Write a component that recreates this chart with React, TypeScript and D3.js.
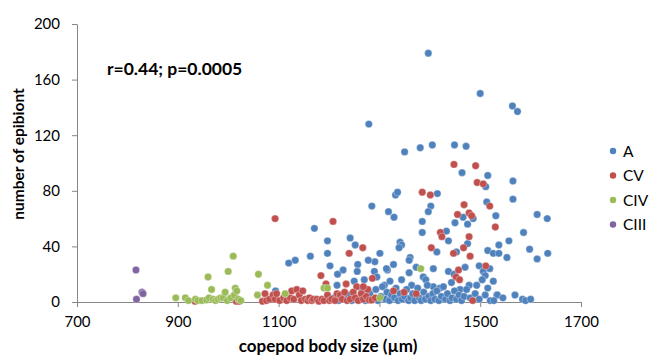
import React, { useEffect, useRef } from 'react';
import * as d3 from 'd3';

// epibiont counts vs copepod body size
const seriesNames = ['A', 'CV', 'CIV', 'CIII'];
const seriesColors = ['#4F81BD', '#C0504D', '#9BBB59', '#8064A2'];

const adults: [number, number][] = [
  [1397, 179], [1500, 150], [1564, 141], [1574, 137], [1279, 128], [1350, 108],
  [1381, 111], [1405, 113], [1449, 113], [1472, 112], [1464, 93], [1515, 91],
  [1511, 83], [1565, 87], [1415, 78], [1332, 77], [1336, 79], [1402, 69],
  [1397, 65], [1318, 65], [1329, 61], [1285, 69], [1513, 72], [1565, 74],
  [1466, 61], [1531, 62], [1450, 57], [1475, 56], [1486, 60], [1385, 58],
  [1385, 50], [1433, 51], [1437, 44], [1475, 42], [1453, 36], [1341, 43],
  [1344, 41], [1339, 39], [1414, 36], [1361, 32], [1359, 30], [1301, 35],
  [1537, 41], [1557, 44], [1515, 37], [1526, 35], [1537, 35], [1553, 32],
  [1613, 63], [1633, 60], [1586, 50], [1598, 38], [1613, 31], [1634, 35],
  [1171, 53], [1197, 44], [1197, 35], [1163, 33], [1133, 30], [1120, 28],
  [1202, 26], [1242, 46], [1252, 41], [1291, 29], [1278, 30], [1257, 27],
  [1256, 22], [1228, 23], [1217, 20], [1316, 23], [1328, 27], [1290, 22],
  [1295, 18], [1270, 16], [1250, 15], [1216, 12], [1310, 12], [1321, 15],
  [1094, 8], [1373, 25], [1407, 24], [1387, 18], [1392, 16], [1359, 21],
  [1437, 22], [1448, 20], [1470, 25], [1498, 26], [1506, 22], [1493, 12],
  [1526, 15], [1478, 12], [1443, 14], [1460, 9], [1533, 5], [1520, 1],
  [1344, 16], [1364, 12], [1407, 11], [1420, 10], [1510, 19], [1504, 16],
  [1519, 24], [1534, 5], [1527, 1], [1569, 5], [1584, 2], [1314, 24],
  [1210, 3], [1219, 1], [1230, 2], [1238, 5], [1245, 1], [1254, 3], [1261, 2],
  [1266, 8], [1272, 1], [1276, 4], [1281, 6], [1288, 2], [1293, 9], [1297, 1],
  [1303, 4], [1306, 11], [1312, 2], [1315, 7], [1320, 1], [1324, 5], [1330, 3],
  [1333, 10], [1337, 1], [1341, 6], [1345, 2], [1350, 4], [1354, 9], [1358, 1],
  [1362, 3], [1366, 6], [1370, 1], [1376, 10], [1379, 3], [1383, 1], [1388, 7],
  [1391, 2], [1395, 12], [1398, 4], [1402, 1], [1406, 6], [1410, 2], [1414, 8],
  [1418, 1], [1423, 4], [1427, 11], [1431, 2], [1435, 6], [1440, 1], [1444, 3],
  [1449, 8], [1453, 2], [1458, 5], [1463, 1], [1468, 4], [1473, 9], [1480, 3],
  [1490, 6], [1498, 2], [1510, 5], [1515, 10], [1545, 3], [1590, 1], [1600, 2],
];

const stageCV: [number, number][] = [
  [1093, 60], [1208, 58], [1240, 35], [1267, 39], [1184, 19], [1194, 13],
  [1234, 13], [1255, 11], [1277, 9], [1286, 17], [1328, 8], [1349, 7],
  [1373, 6], [1385, 79], [1401, 77], [1448, 99], [1491, 98], [1494, 86],
  [1506, 85], [1519, 69], [1468, 70], [1455, 63], [1478, 64], [1483, 62],
  [1530, 54], [1421, 50], [1424, 47], [1478, 47], [1467, 39], [1447, 35],
  [1480, 33], [1403, 39], [1457, 23], [1452, 18], [1459, 16], [1511, 26],
  [1485, 1], [1073, 6], [1068, 0.5], [1076, 1], [1082, 2], [1089, 5],
  [1093, 2], [1096, 6], [1102, 1], [1110, 3], [1116, 1], [1123, 3], [1126, 8],
  [1130, 2], [1136, 9], [1141, 5], [1145, 1], [1148, 8], [1153, 2], [1158, 1],
  [1161, 3], [1166, 1], [1169, 2], [1176, 2], [1180, 0.5], [1186, 2],
  [1190, 1], [1197, 5], [1201, 1], [1205, 2], [1212, 1], [1216, 6], [1222, 5],
  [1226, 2], [1231, 7], [1236, 1], [1242, 2], [1248, 7], [1252, 3], [1258, 1],
  [1264, 6], [1268, 2], [1268, 11], [1274, 4], [1280, 1.4], [1285, 1.4],
  [1292, 3], [1016, 0.5], [1022, 0.5], [934, 0.5],
];

const stageCIV: [number, number][] = [
  [896, 3], [915, 3], [921, 1], [935, 2], [940, 1], [948, 1], [957, 1.5],
  [962, 3], [967, 9], [960, 18], [970, 2], [975, 1], [980, 2], [985, 3],
  [990, 3], [994, 7], [998, 1], [1000, 22], [1005, 3], [1010, 33], [1012, 5],
  [1014, 10], [1017, 8], [1020, 2], [1025, 1], [1058, 5], [1060, 20],
  [1078, 12], [1113, 6], [1190, 10], [1197, 10], [1301, 3], [1382, 24],
];

const stageCIII: [number, number][] = [
  [817, 23], [829, 7], [831, 6], [818, 2],
];

const xTicks = [700, 900, 1100, 1300, 1500, 1700];
const yTicks = [0, 40, 80, 120, 160, 200];

const allSeries = [adults, stageCV, stageCIV, stageCIII];

const W = 649;
const H = 358;
const font = 'Lato, "Open Sans", sans-serif';

export default function App() {
  const xRef = useRef<SVGGElement>(null);
  const yRef = useRef<SVGGElement>(null);

  const x = d3.scaleLinear().domain([700, 1700]).range([77, 581]);
  const y = d3.scaleLinear().domain([0, 200]).range([302, 24]);

  useEffect(() => {
    const xAxis = d3.axisBottom(x).tickValues(xTicks).tickSize(5).tickSizeOuter(0).tickPadding(9).tickFormat(d3.format('d'));
    const yAxis = d3.axisLeft(y).tickValues(yTicks).tickSize(5).tickSizeOuter(0).tickPadding(12).tickFormat(d3.format('d'));
    for (const [node, axis] of [[xRef.current, xAxis], [yRef.current, yAxis]] as const) {
      const g = d3.select(node as SVGGElement);
      g.call(axis as any);
      g.selectAll('path,line').attr('stroke', '#868686');
      g.selectAll('text').attr('fill', '#000').style('font-family', font).style('font-size', '15px');
    }
  }, []);

  return (
    <svg width={W} height={H} style={{ position: 'fixed', left: 0, top: 0, background: '#fff' }}>
      <g ref={xRef} transform={`translate(0,${y(0)})`} />
      <g ref={yRef} transform={`translate(${x(700)},0)`} />

      {allSeries.map((pts, i) => (
        <g key={seriesNames[i]} fill={seriesColors[i]} stroke="#fff" strokeOpacity={0.55} strokeWidth={0.6}>
          {pts.map((d, j) => (
            <circle key={j} cx={x(d[0])} cy={y(d[1])} r={3.7} />
          ))}
        </g>
      ))}

      <text x={107} y={75} fontFamily={font} fontWeight="bold" fontSize={17.5}>r=0.44; p=0.0005</text>

      <text transform="translate(24,154) rotate(-90)" textAnchor="middle" fontFamily={font} fontWeight="bold" fontSize={15.5}>
        number of epibiont
      </text>
      <text x={328} y={352} textAnchor="middle" fontFamily={font} fontWeight="bold" fontSize={17}>
        copepod body size (µm)
      </text>

      {seriesNames.map((name, i) => (
        <g key={name} transform={`translate(613,${151 + i * 24.5})`}>
          <circle r={3.2} fill={seriesColors[i]} />
          <text x={10} y={5.5} fontFamily={font} fontSize={15.5}>{name}</text>
        </g>
      ))}
    </svg>
  );
}
